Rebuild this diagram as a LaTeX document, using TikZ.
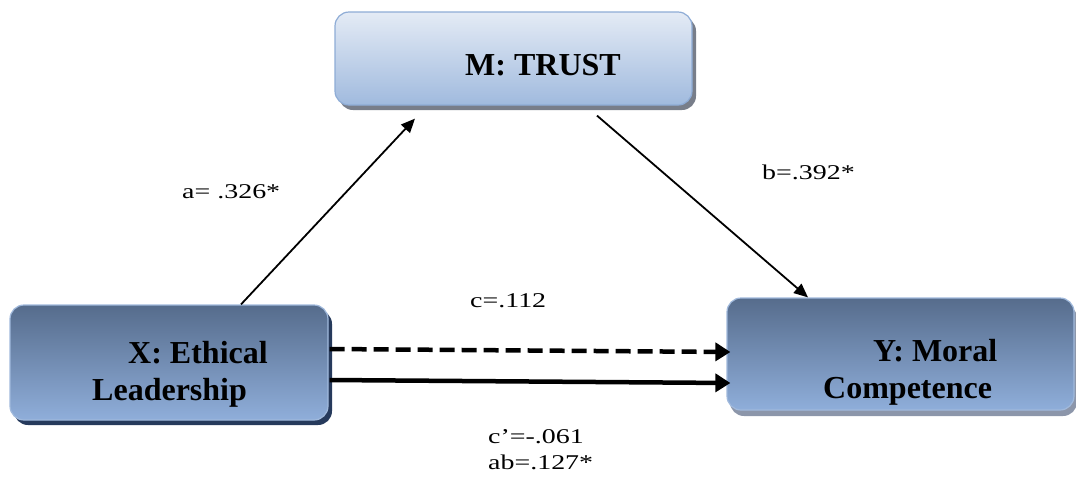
\documentclass[tikz,border=0pt]{standalone}
\usepackage{fontspec}
\setmainfont{Liberation Serif}
\usetikzlibrary{shadows,arrows.meta}
\definecolor{mtop}{RGB}{228,235,245}
\definecolor{mbot}{RGB}{160,186,222}
\definecolor{mborder}{RGB}{142,172,214}
\definecolor{dtop}{RGB}{86,108,140}
\definecolor{dbot}{RGB}{143,174,218}
\definecolor{dborder}{RGB}{160,185,220}
\definecolor{xshadow}{RGB}{38,58,92}
\definecolor{yshadow}{RGB}{140,150,170}
\definecolor{mshadow}{RGB}{120,126,138}
\tikzset{
  boxbase/.style={rectangle, rounded corners=14pt, inner sep=0pt, line width=1.2pt},
  mbox/.style={boxbase, draw=mborder, top color=mtop, bottom color=mbot,
    drop shadow={shadow xshift=4pt, shadow yshift=-5pt, fill=mshadow, opacity=1}},
  xbox/.style={boxbase, draw=dborder, top color=dtop, bottom color=dbot,
    drop shadow={shadow xshift=4pt, shadow yshift=-5pt, fill=xshadow, opacity=1}},
  ybox/.style={boxbase, draw=dborder, top color=dtop, bottom color=dbot,
    drop shadow={shadow xshift=3pt, shadow yshift=-6pt, fill=yshadow, opacity=1}},
  boxtext/.style={anchor=base west, inner sep=0pt, font=\fontsize{32}{37}\selectfont\bfseries},
  lbl/.style={anchor=base west, inner sep=0pt, font=\fontsize{21}{25}\selectfont},
  thinarrow/.style={line width=1.8pt, -{Triangle[length=14pt, width=12pt]}},
  thickarrow/.style={line width=4.5pt, -{Triangle[length=15pt, width=18pt]}},
}
\newcommand{\wide}[1]{\scalebox{1.33}[1]{#1}}
\begin{document}
\begin{tikzpicture}[x=1pt,y=-1pt]
\useasboundingbox (0,0) rectangle (1076,480);
% boxes
\node[mbox, minimum width=357pt, minimum height=93pt] (M) at (513.5,58.5) {};
\node[xbox, minimum width=318pt, minimum height=115pt] (X) at (169,362.5) {};
\node[ybox, minimum width=347pt, minimum height=112pt] (Y) at (900.5,354) {};
% box texts
\node[boxtext] (Mt) at (465,75) {M: TRUST};
\node[boxtext] (Xt1) at (128,363) {X: Ethical};
\node[boxtext] (Xt2) at (92,400) {Leadership};
\node[boxtext] (Yt1) at (873,361) {Y: Moral};
\node[boxtext] (Yt2) at (823,398) {Competence};
% connectors
\draw[thinarrow] ([xshift=72pt]X.north) -- ([xshift=-98.5pt,yshift=-13pt]M.south);
\draw[thinarrow] ([xshift=83.5pt,yshift=-10pt]M.south) -- ([xshift=-92.5pt]Y.north);
\draw[thickarrow, dash pattern=on 15pt off 7pt] ([xshift=1pt,yshift=13.5pt]X.east) -- ([xshift=4pt,yshift=2pt]Y.west);
\draw[thickarrow] ([xshift=1pt,yshift=-17.5pt]X.east) -- ([xshift=4pt,yshift=-29pt]Y.west);
% labels
\node[lbl] (la) at (182,198) {\wide{a= .326*}};
\node[lbl] (lb) at (762,179) {\wide{b=.392*}};
\node[lbl] (lc) at (470,307) {\wide{c=.112}};
\node[lbl] (lcp) at (488,443) {\wide{c’=-.061}};
\node[lbl] (lab) at (488,469) {\wide{ab=.127*}};
\end{tikzpicture}
\end{document}
